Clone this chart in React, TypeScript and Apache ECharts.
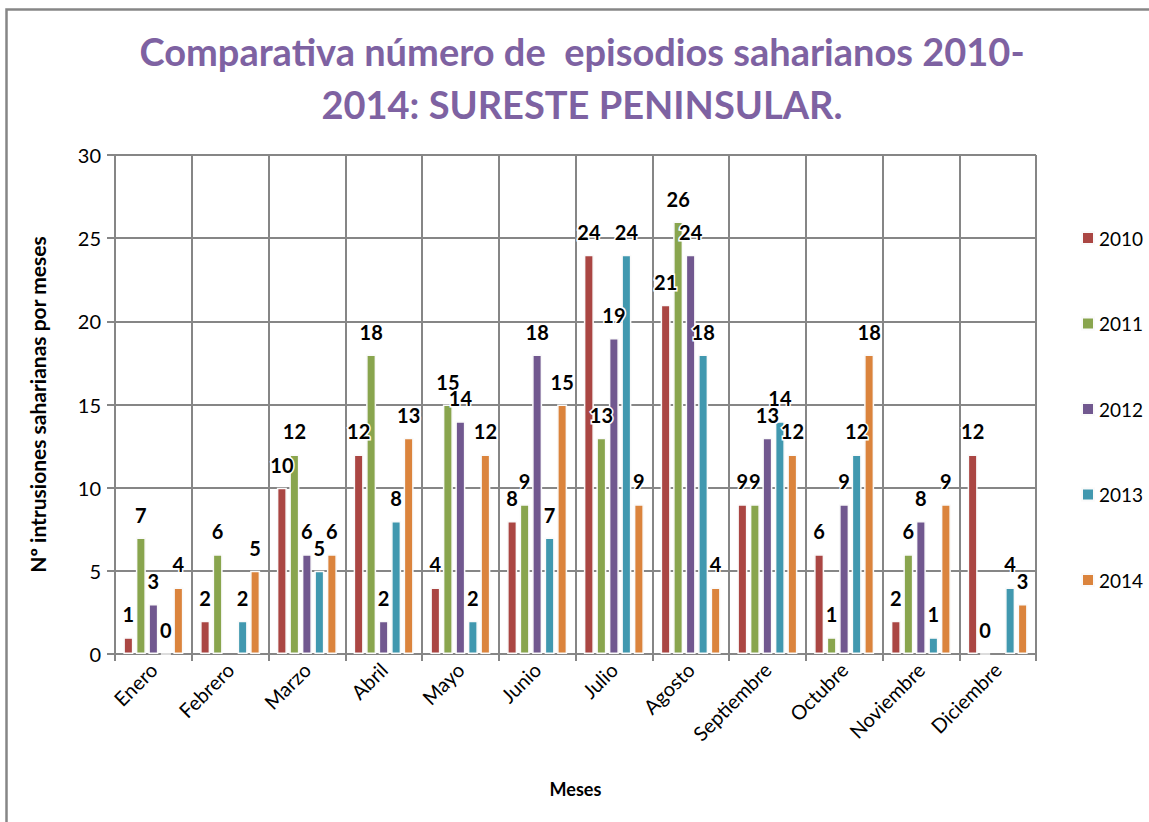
import React, { useEffect, useRef } from "react";
import * as echarts from "echarts";

const months = ["Enero", "Febrero", "Marzo", "Abril", "Mayo", "Junio", "Julio", "Agosto", "Septiembre", "Octubre", "Noviembre", "Diciembre"];
const years = ["2010", "2011", "2012", "2013", "2014"];
const s2010 = [1, 2, 10, 12, 4, 8, 24, 21, 9, 6, 2, 12];
const s2011 = [7, 6, 12, 18, 15, 9, 13, 26, 9, 1, 6, 0];
const s2012 = [3, null, 6, 2, 14, 18, 19, 24, 13, 9, 8, null];
const s2013 = [0, 2, 5, 8, 2, 7, 24, 18, 14, 12, 1, 4];
const s2014 = [4, 5, 6, 13, 12, 15, 9, 4, 12, 18, 9, 3];
const colors = ["#AA4643", "#89A54E", "#71588F", "#4198AF", "#DB843D"];
const titleLine1 = "Comparativa número de  episodios saharianos 2010-";
const titleLine2 = "2014: SURESTE PENINSULAR.";

const FONT = "Lato, 'Open Sans', sans-serif";
const GRID = "#868686";

export default function App() {
  const ref = useRef<HTMLDivElement>(null);
  useEffect(() => {
    if (!ref.current) return;
    const chart = echarts.init(ref.current, null, { renderer: "svg" });
    const allSeries = [s2010, s2011, s2012, s2013, s2014];
    chart.setOption({
      animation: false,
      backgroundColor: "#ffffff",
      color: colors,
      textStyle: { fontFamily: FONT },
      graphic: [
        {
          type: "rect",
          shape: { x: 6.5, y: 9.5, width: 1300, height: 1000 },
          style: { fill: "none", stroke: GRID, lineWidth: 2.5 },
          silent: true,
        },
        {
          type: "text",
          x: 582,
          y: 51,
          style: {
            text: titleLine1,
            font: `bold 38px ${FONT}`,
            fill: "#7E62A2",
            align: "center",
            verticalAlign: "middle",
          },
        },
        {
          type: "text",
          x: 582,
          y: 104,
          style: {
            text: titleLine2,
            font: `bold 38px ${FONT}`,
            fill: "#7E62A2",
            align: "center",
            verticalAlign: "middle",
          },
        },
      ],
      legend: {
        orient: "vertical",
        left: 1076,
        top: 223,
        itemWidth: 12,
        itemHeight: 12,
        itemGap: 65.5,
        icon: "rect",
        data: years,
        textStyle: { fontSize: 19, color: "#000", lineHeight: 20, fontFamily: FONT },
      },
      grid: {
        left: 115,
        right: 113,
        top: 155,
        bottom: 168,
        containLabel: false,
        outerBoundsMode: "none",
      },
      xAxis: {
        type: "category",
        data: months,
        name: "Meses",
        nameLocation: "middle",
        nameGap: 126,
        nameTextStyle: { fontSize: 18, fontWeight: "bold", color: "#000", fontFamily: FONT },
        axisLine: { show: true, lineStyle: { color: GRID, width: 2 } },
        axisTick: { show: true, interval: 0, length: 7, lineStyle: { color: GRID, width: 2 } },
        splitLine: { show: true, interval: 0, lineStyle: { color: GRID, width: 2 } },
        axisLabel: { interval: 0, rotate: 45, fontSize: 20, color: "#000", margin: 12, fontFamily: FONT },
      },
      yAxis: {
        type: "value",
        min: 0,
        max: 30,
        interval: 5,
        name: "Nº intrusiones saharianas por meses",
        nameLocation: "middle",
        nameRotate: 90,
        nameGap: 67,
        nameTextStyle: { fontSize: 21, fontWeight: "bold", color: "#000", fontFamily: FONT },
        axisLine: { show: true, lineStyle: { color: GRID, width: 2 } },
        axisTick: { show: true, length: 8, lineStyle: { color: GRID, width: 2 } },
        splitLine: { show: true, lineStyle: { color: GRID, width: 2 } },
        axisLabel: { fontSize: 20, color: "#000", margin: 14, fontFamily: FONT },
      },
      series: years.map((y, i) => ({
        name: y,
        type: "bar",
        data: allSeries[i],
        barWidth: 10,
        barGap: "25%",
        itemStyle: { color: colors[i], borderColor: "#fafafa", borderWidth: 1.5 },
        label: {
          show: true,
          position: "top",
          distance: 13,
          fontSize: 20,
          fontWeight: "bold",
          color: "#000",
          textBorderColor: "#fff",
          textBorderWidth: 3,
          fontFamily: FONT,
        },
      })),
    });
    return () => chart.dispose();
  }, []);
  return (
    <div
      ref={ref}
      style={{ position: "fixed", left: 0, top: 0, width: 1149, height: 822 }}
    />
  );
}
